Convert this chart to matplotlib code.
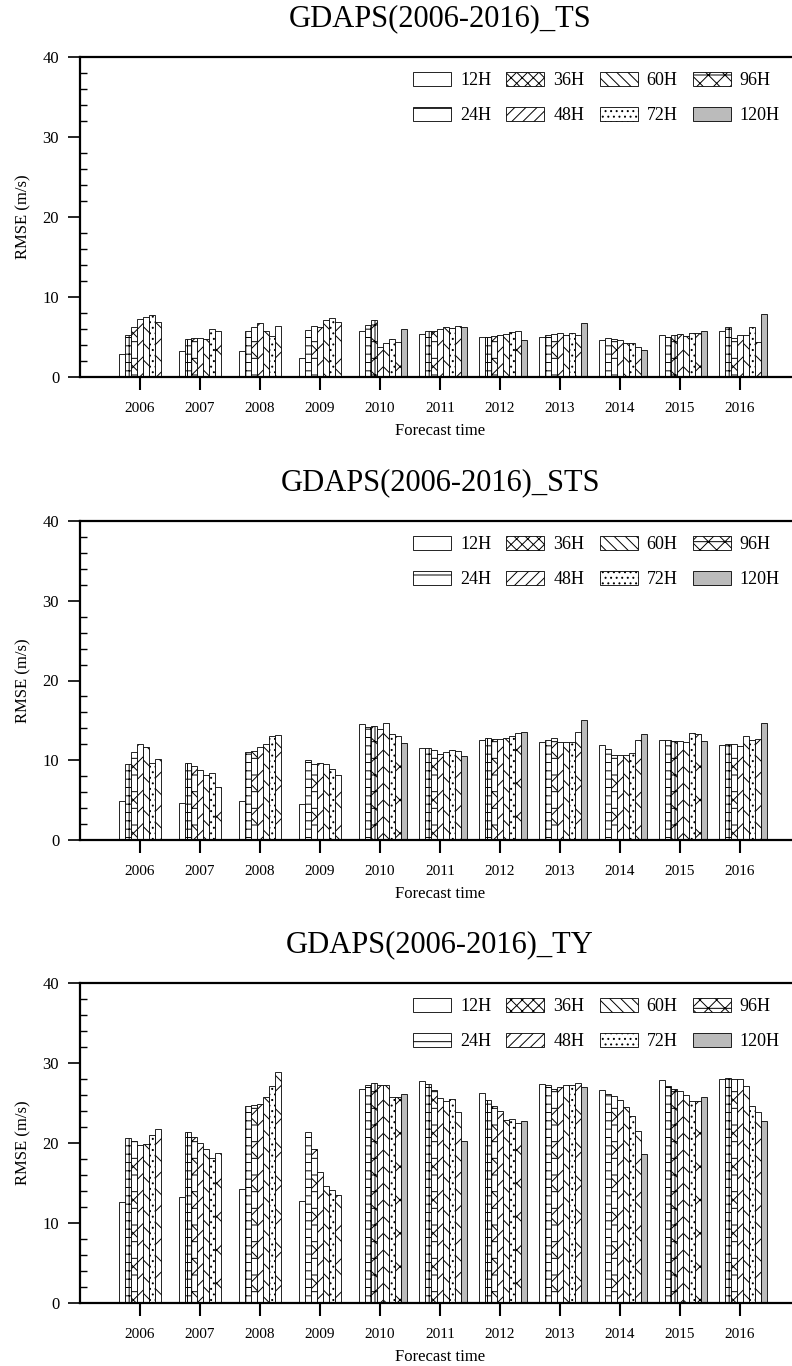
import numpy as np
import matplotlib
matplotlib.use("Agg")
import matplotlib.pyplot as plt
from matplotlib.patches import Patch

plt.rcParams["font.family"] = ["Liberation Serif", "DejaVu Serif"]
plt.rcParams["hatch.linewidth"] = 0.7

# data (RMSE m/s), one row per year, columns = forecast horizon
years = ["2006", "2007", "2008", "2009", "2010", "2011", "2012", "2013", "2014", "2015", "2016"]
horizons = ["12H", "24H", "36H", "48H", "60H", "72H", "96H", "120H"]
nan = np.nan

ts_rmse = [
    [2.9, 5.3, 6.3, 7.3, 7.5, 7.8, 6.9, nan],
    [3.25, 4.7, 4.9, 4.9, 4.8, 6.0, 5.7, nan],
    [3.25, 5.8, 6.3, 6.7, 5.75, 5.1, 6.4, nan],
    [2.4, 5.9, 6.4, 6.3, 7.1, 7.4, 6.9, nan],
    [5.8, 6.5, 7.1, 3.75, 4.2, 4.7, 4.4, 6.0],
    [5.4, 5.8, 5.75, 6.0, 6.2, 6.1, 6.4, 6.3],
    [5.0, 5.0, 5.1, 5.3, 5.4, 5.6, 5.7, 4.6],
    [5.0, 5.2, 5.4, 5.45, 5.3, 5.45, 5.2, 6.8],
    [4.6, 4.9, 4.8, 4.6, 4.3, 4.2, 3.75, 3.4],
    [5.3, 5.0, 5.25, 5.4, 5.1, 5.45, 5.45, 5.75],
    [5.7, 6.2, 4.9, 5.3, 5.3, 6.3, 4.4, 7.85],
]

sts_rmse = [
    [4.9, 9.5, 11.0, 12.1, 11.6, 9.7, 10.1, nan],
    [4.7, 9.7, 9.3, 8.8, 8.1, 8.4, 6.6, nan],
    [4.95, 11.0, 11.1, 11.6, 12.1, 13.0, 13.15, nan],
    [4.55, 10.05, 9.55, 9.7, 9.55, 8.9, 8.2, nan],
    [14.6, 14.15, 14.25, 13.95, 14.65, 13.3, 13.0, 12.15],
    [11.55, 11.55, 11.3, 10.8, 11.0, 11.3, 11.1, 10.5],
    [12.5, 12.8, 12.7, 12.7, 12.8, 13.0, 13.45, 13.5],
    [12.3, 12.5, 12.8, 12.35, 12.35, 12.35, 13.5, 15.0],
    [11.9, 11.45, 10.7, 10.6, 10.6, 10.9, 12.5, 13.3],
    [12.55, 12.55, 12.4, 12.4, 12.3, 13.45, 13.25, 12.4],
    [11.85, 12.05, 12.05, 11.75, 13.0, 12.5, 12.7, 14.65],
]

ty_rmse = [
    [12.65, 20.6, 20.3, 19.75, 19.9, 21.0, 21.7, nan],
    [13.2, 21.4, 20.8, 20.0, 19.2, 18.1, 18.7, nan],
    [14.3, 24.6, 24.75, 24.9, 25.8, 27.1, 28.9, nan],
    [12.8, 21.4, 19.2, 16.4, 14.6, 14.1, 13.5, nan],
    [26.8, 27.25, 27.45, 27.3, 27.25, 25.8, 25.8, 26.1],
    [27.8, 27.4, 26.6, 25.6, 25.2, 25.5, 23.9, 20.2],
    [26.3, 25.4, 24.6, 24.0, 22.9, 23.0, 22.5, 22.7],
    [27.4, 27.2, 26.75, 27.0, 27.2, 27.3, 27.5, 27.0],
    [26.6, 26.1, 25.9, 25.4, 24.5, 23.4, 21.5, 18.6],
    [27.9, 27.1, 26.75, 26.5, 26.0, 25.25, 25.25, 25.7],
    [28.0, 28.1, 28.0, 27.95, 27.1, 24.6, 23.9, 22.8],
]

titles = ["GDAPS(2006-2016)_TS", "GDAPS(2006-2016)_STS", "GDAPS(2006-2016)_TY"]

# patterns inside bars and in the legend look different in the original
bar_hatch = ["", "++", "x+", "//", "\\\\", "...", "x", ""]
leg_hatch = ["", "-", "xxx", "///", "\\\\\\", "...", "xx-", ""]
colors = ["white"] * 7 + ["#bbbbbb"]

fig = plt.figure(figsize=(7.92, 13.66), dpi=100)
W, H = 792.0, 1366.0
panels = [(57, 377), (521, 840), (983, 1303)]
x_left = 80

for p, (top, bot) in enumerate(panels):
    ax = fig.add_axes([x_left / W, 1 - bot / H, 720 / W, (bot - top) / H])
    data = np.array([ts_rmse, sts_rmse, ty_rmse][p])
    x = np.arange(len(years))
    bw = 0.1
    for i, h in enumerate(horizons):
        ax.bar(x - 0.35 + bw * i, data[:, i], width=bw, align="edge",
               color=colors[i], edgecolor="black", linewidth=0.6,
               hatch=bar_hatch[i])

    ax.set_xlim(-1, 11)
    ax.set_ylim(0, 40)
    ax.set_xticks(x)
    ax.set_xticklabels(years, fontsize=11)
    ax.set_yticks([0, 10, 20, 30, 40])
    ax.set_yticks(np.arange(0, 41, 2), minor=True)
    ax.tick_params(axis="y", which="major", direction="out", length=9, width=1.2,
                   labelsize=12, pad=6)
    ax.tick_params(axis="y", which="minor", direction="in", length=5, width=1.0)
    ax.tick_params(axis="x", which="major", direction="out", length=9, width=1.5,
                   pad=9)
    ax.tick_params(top=False, right=False)
    for s in ["left", "bottom", "top"]:
        ax.spines[s].set_linewidth(1.6)
    ax.spines["right"].set_visible(False)

    ax.set_ylabel("RMSE (m/s)", fontsize=12, labelpad=8)
    ax.set_xlabel("Forecast time", fontsize=12, labelpad=6)
    ax.set_title(titles[p], fontsize=22, pad=22)

    handles = [Patch(facecolor=colors[i], edgecolor="black", linewidth=0.6,
                     hatch=leg_hatch[i]) for i in range(len(horizons))]
    ax.legend(handles, horizons, ncol=4, loc="upper right",
              bbox_to_anchor=(0.982, 0.975), frameon=False, fontsize=13,
              handlelength=2.1, handleheight=0.75, handletextpad=0.5,
              columnspacing=0.85, labelspacing=1.0, borderaxespad=0)

fig.savefig("out.png", dpi=100)
